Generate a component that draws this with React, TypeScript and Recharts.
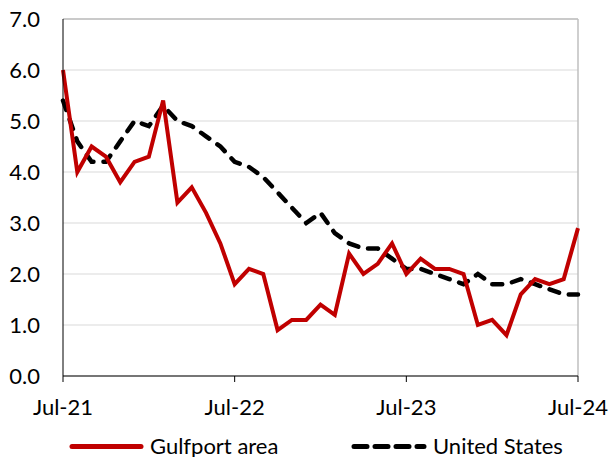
import React from 'react';
import { LineChart, Line, XAxis, YAxis, CartesianGrid, ReferenceLine } from 'recharts';

const months = [
  'Jul-21','Aug-21','Sep-21','Oct-21','Nov-21','Dec-21','Jan-22','Feb-22','Mar-22','Apr-22','May-22','Jun-22',
  'Jul-22','Aug-22','Sep-22','Oct-22','Nov-22','Dec-22','Jan-23','Feb-23','Mar-23','Apr-23','May-23','Jun-23',
  'Jul-23','Aug-23','Sep-23','Oct-23','Nov-23','Dec-23','Jan-24','Feb-24','Mar-24','Apr-24','May-24','Jun-24',
  'Jul-24',
];

const gulfport = [
  6.0, 4.0, 4.5, 4.3, 3.8, 4.2, 4.3, 5.4, 3.4, 3.7, 3.2, 2.6,
  1.8, 2.1, 2.0, 0.9, 1.1, 1.1, 1.4, 1.2, 2.4, 2.0, 2.2, 2.6,
  2.0, 2.3, 2.1, 2.1, 2.0, 1.0, 1.1, 0.8, 1.6, 1.9, 1.8, 1.9,
  2.9,
];

const unitedStates = [
  5.4, 4.6, 4.2, 4.2, 4.6, 5.0, 4.9, 5.3, 5.0, 4.9, 4.7, 4.5,
  4.2, 4.1, 3.9, 3.6, 3.3, 3.0, 3.2, 2.8, 2.6, 2.5, 2.5, 2.3,
  2.1, 2.1, 2.0, 1.9, 1.8, 2.0, 1.8, 1.8, 1.9, 1.8, 1.7, 1.6,
  1.6,
];

const yTicks = [0, 1, 2, 3, 4, 5, 6, 7];
const seriesNames = ['Gulfport area', 'United States'];

const data = months.map((m, i) => ({ month: m, gulfport: gulfport[i], us: unitedStates[i] }));

const FONT = 'Lato, "Open Sans", sans-serif';
const RED = '#C00000';
const FS = 22;

export default function App() {
  return (
    <div style={{ position: 'absolute', left: 0, top: 0, width: 610, height: 457, background: '#fff', fontFamily: FONT, overflow: 'hidden' }}>
      <LineChart width={610} height={457} data={data} margin={{ top: 19, right: 32, left: 0, bottom: 51 }}>
        <CartesianGrid vertical={false} stroke="#d9d9d9" strokeWidth={1} />
        <ReferenceLine y={7} stroke="#bfbfbf" strokeWidth={1.5} ifOverflow="extendDomain" />
        <ReferenceLine x={months[months.length - 1]} stroke="#bfbfbf" strokeWidth={1.5} />
        <XAxis
          dataKey="month"
          interval={11}
          height={30}
          stroke="#000"
          tickSize={6}
          tickMargin={17}
          tick={{ fill: '#000', fontSize: FS, fontFamily: FONT }}
          axisLine={{ stroke: '#000', strokeWidth: 1 }}
          tickLine={{ stroke: '#000', strokeWidth: 1 }}
        />
        <YAxis
          domain={[0, 7]}
          ticks={yTicks}
          width={63}
          tickSize={0}
          tickMargin={23}
          tickLine={false}
          tickFormatter={(v: number) => v.toFixed(1)}
          tick={{ fill: '#000', fontSize: FS, fontFamily: FONT }}
          axisLine={{ stroke: '#000', strokeWidth: 1 }}
        />
        <Line
          type="linear"
          dataKey="us"
          name={seriesNames[1]}
          stroke="#000"
          strokeWidth={4.5}
          strokeDasharray="10 10"
          strokeLinecap="round"
          dot={false}
          activeDot={false}
          isAnimationActive={false}
        />
        <Line
          type="linear"
          dataKey="gulfport"
          name={seriesNames[0]}
          stroke={RED}
          strokeWidth={4}
          strokeLinejoin="miter"
          dot={false}
          activeDot={false}
          isAnimationActive={false}
        />
      </LineChart>
      <svg width={610} height={32} style={{ position: 'absolute', left: 0, top: 425 }}>
        <line x1={72} y1={21.5} x2={141} y2={21.5} stroke={RED} strokeWidth={5} strokeLinecap="round" />
        <line x1={354} y1={21.5} x2={424} y2={21.5} stroke="#000" strokeWidth={5} strokeLinecap="round" strokeDasharray="13 8" />
        <text x={150} y={28.5} fontSize={FS} fontFamily={FONT} fill="#000">{seriesNames[0]}</text>
        <text x={433} y={28.5} fontSize={FS} fontFamily={FONT} fill="#000">{seriesNames[1]}</text>
      </svg>
    </div>
  );
}
